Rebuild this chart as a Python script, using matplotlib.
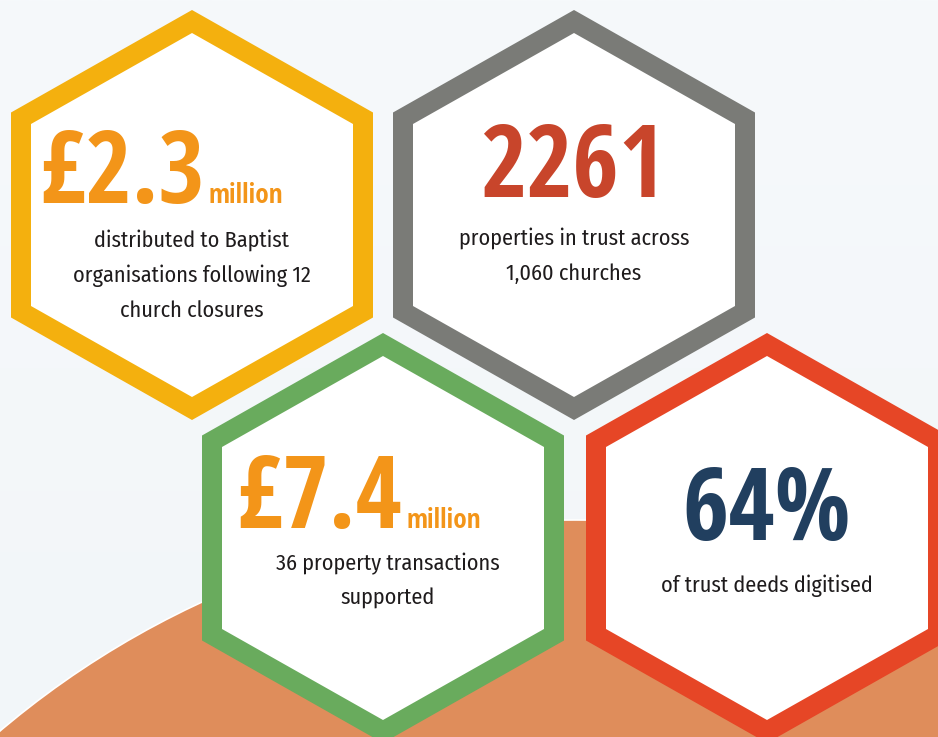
import numpy as np
import matplotlib
matplotlib.use("Agg")
import matplotlib.pyplot as plt
from matplotlib.patches import Polygon, Circle

# datos de la infografia
cifras = ["£2.3", "2261", "£7.4", "64%"]
unidades = ["million", "", "million", ""]
textos = [
    "distributed to Baptist\norganisations following 12\nchurch closures",
    "properties in trust across\n1,060 churches",
    "36 property transactions\nsupported",
    "of trust deeds digitised",
]

# layout (en pixeles)
centros = [(192, 215), (574, 215), (383, 538), (767, 538)]
bordes = ["#F4B00E", "#7A7B77", "#69AB5D", "#E64626"]
color_cifra = ["#F39519", "#C8452B", "#F39519", "#213F5F"]
base_cifra = [203, 197, 528, 540]
base_texto = [247, 245, 570, 592]
cifra_x = [205, 573, 402, 767]  # borde derecho si hay unidad, centro si no
texto_x = [192, 574, 388, 767]

FUENTE_CIFRA = ["Open Sans Condensed", "DejaVu Sans"]
FUENTE_TEXTO = ["Fira Sans Condensed", "Open Sans Condensed", "DejaVu Sans"]
W, H = 938, 737


def hexagono(cx, cy, a, r):
    return [(cx, cy - r), (cx + a, cy - r / 2), (cx + a, cy + r / 2),
            (cx, cy + r), (cx - a, cy + r / 2), (cx - a, cy - r / 2)]


fig = plt.figure(figsize=(W / 100, H / 100), dpi=100)
ax = fig.add_axes([0, 0, 1, 1])
ax.set_xlim(0, W)
ax.set_ylim(H, 0)
ax.axis("off")

# fondo con un degradado suave
grad = np.linspace(0, 1, 256).reshape(-1, 1)
ax.imshow(grad, extent=[0, W, H, 0], cmap=matplotlib.colors.LinearSegmentedColormap.from_list(
    "fondo", ["#F6F9FB", "#F2F6F9"]), aspect="auto", zorder=0)

# arco naranja de abajo
ax.add_patch(Circle((575, 1409), 889, facecolor="#DF8D5B", edgecolor="white", lw=1.2, zorder=1))

for i in range(len(cifras)):
    cx, cy = centros[i]
    ax.add_patch(Polygon(hexagono(cx, cy, 181, 205), closed=True, facecolor=bordes[i], lw=0, zorder=2))
    ax.add_patch(Polygon(hexagono(cx, cy, 161, 182), closed=True, facecolor="white", lw=0, zorder=3))

    if unidades[i]:
        ax.text(cifra_x[i], base_cifra[i], cifras[i], ha="right", va="baseline", fontsize=72,
                fontweight="bold", color=color_cifra[i], family=FUENTE_CIFRA, zorder=4)
        ax.text(cifra_x[i] + 4, base_cifra[i], unidades[i], ha="left", va="baseline", fontsize=19.5,
                fontweight="bold", color=color_cifra[i], family=FUENTE_CIFRA, zorder=4)
    else:
        ax.text(cifra_x[i], base_cifra[i], cifras[i], ha="center", va="baseline", fontsize=72,
                fontweight="bold", color=color_cifra[i], family=FUENTE_CIFRA, zorder=4)

    for j, linea in enumerate(textos[i].split("\n")):
        ax.text(texto_x[i], base_texto[i] + 35 * j, linea, ha="center", va="baseline", fontsize=16,
                fontweight="normal", color="#1E1B1C", family=FUENTE_TEXTO, zorder=4)

fig.savefig("out.png", dpi=100)
